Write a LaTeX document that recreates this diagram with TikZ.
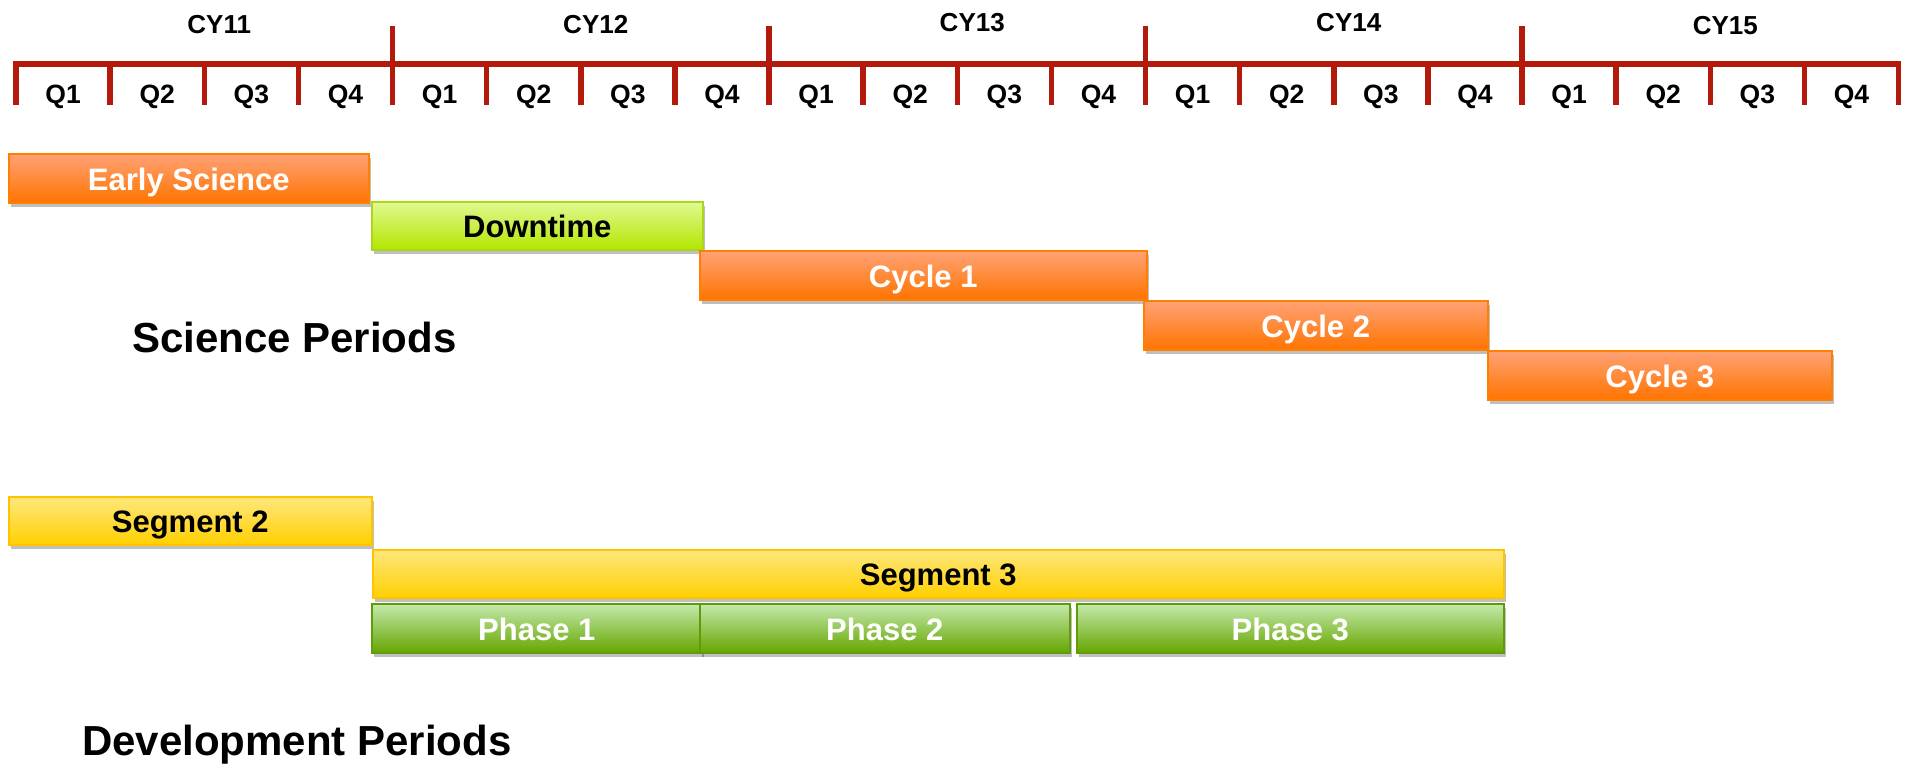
\documentclass[tikz,border=0pt]{standalone}
\usepackage{fontspec}
\setmainfont{Liberation Sans}
\usetikzlibrary{shadows}
\definecolor{tlred}{RGB}{178,26,12}
\definecolor{orTop}{RGB}{255,162,118}
\definecolor{orBot}{RGB}{255,116,0}
\definecolor{orLine}{RGB}{255,128,0}
\definecolor{liTop}{RGB}{224,249,145}
\definecolor{liBot}{RGB}{180,230,0}
\definecolor{liLine}{RGB}{170,214,30}
\definecolor{yeTop}{RGB}{255,231,125}
\definecolor{yeBot}{RGB}{255,208,0}
\definecolor{yeLine}{RGB}{255,195,0}
\definecolor{grTop}{RGB}{196,233,172}
\definecolor{grBot}{RGB}{102,166,0}
\definecolor{grLine}{RGB}{96,155,10}
\begin{document}
\begin{tikzpicture}[x=1pt,y=-1pt,
  tl/.style={draw=tlred, line width=5.5pt, line join=miter},
  qlab/.style={anchor=base, inner sep=0pt, font=\fontsize{26.5}{26.5}\selectfont\bfseries},
  ylab/.style={anchor=base, inner sep=0pt, font=\fontsize{26}{26}\selectfont\bfseries},
  heading/.style={anchor=base west, inner sep=0pt, font=\fontsize{42}{42}\selectfont\bfseries},
  bar/.style={rectangle, anchor=north west, inner sep=0pt, line width=1.5pt,
    font=\fontsize{31}{31}\selectfont\bfseries, text height=24pt, text depth=0pt,
    drop shadow={shadow xshift=2pt, shadow yshift=-4pt, opacity=0.25, fill=black}},
  orangebar/.style={bar, draw=orLine, top color=orTop, bottom color=orBot, text=white},
  limebar/.style={bar, draw=liLine, top color=liTop, bottom color=liBot, text=black},
  yellowbar/.style={bar, draw=yeLine, top color=yeTop, bottom color=yeBot, text=black},
  greenbar/.style={bar, draw=grLine, top color=grTop, bottom color=grBot, text=white}]
\useasboundingbox[fill=white] (0,0) rectangle (1909,764);

% timeline
\draw[tl] (16,105) -- (16,64) -- (1898.5,64) -- (1898.5,105);
\foreach \i in {1,...,19}{
  \pgfmathtruncatemacro{\m}{mod(\i,4)}
  \ifnum\m=0
    \draw[tl] ({16+\i*94.125},26) -- ({16+\i*94.125},105);
  \else
    \draw[tl] ({16+\i*94.125},64) -- ({16+\i*94.125},105);
  \fi
}
\foreach \i in {0,...,19}{
  \pgfmathtruncatemacro{\q}{mod(\i,4)+1}
  \node[qlab] (q\i) at ({16+(\i+0.5)*94.125},103.5) {Q\q};
}
\foreach \n/\yy [count=\k from 0] in {11/33,12/33,13/31,14/31,15/34}{
  \node[ylab] (cy\n) at ({16+(\k*4+2)*94.125+15},\yy) {CY\n};
}

% science periods
\node[orangebar, minimum width=360pt, minimum height=49pt] (es) at (8,153) {Early Science};
\node[limebar, minimum width=331pt, minimum height=48pt] (dt) at (371,201) {Downtime};
\node[orangebar, minimum width=447pt, minimum height=49pt] (c1) at (699,250) {Cycle 1};
\node[orangebar, minimum width=344pt, minimum height=49pt] (c2) at (1143,300) {Cycle 2};
\node[orangebar, minimum width=344pt, minimum height=49pt] (c3) at (1487,350) {Cycle 3};
\node[heading] (sp) at (132,352) {Science Periods};

% development periods
\node[yellowbar, minimum width=363pt, minimum height=48pt] (s2) at (8,496) {Segment 2};
\node[yellowbar, minimum width=1131pt, minimum height=48pt] (s3) at (372,549) {Segment 3};
\node[greenbar, minimum width=330pt, minimum height=49pt] (p1) at (371,603) {Phase 1};
\node[greenbar, minimum width=370pt, minimum height=49pt] (p2) at (699,603) {Phase 2};
\node[greenbar, minimum width=427pt, minimum height=49pt] (p3) at (1076,603) {Phase 3};
\node[heading] (dp) at (82,755) {Development Periods};
\end{tikzpicture}
\end{document}
